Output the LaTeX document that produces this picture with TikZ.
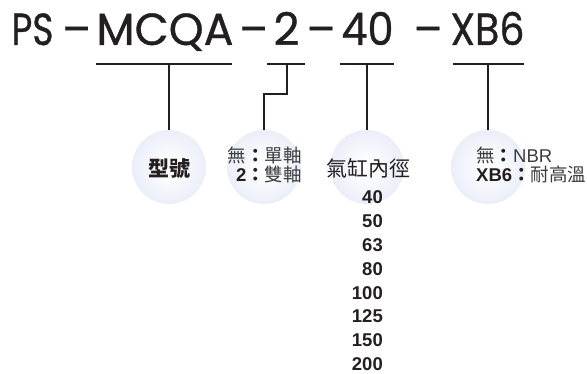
\documentclass[tikz,border=0pt]{standalone}
\usepackage{graphicx}
\usepackage{fontspec}
\newfontfamily\cjk{Noto Sans CJK TC}
\newfontfamily\arialf{Liberation Sans}
\newfontfamily\titlef{Poppins}[FakeBold=0.8]
\definecolor{lav}{RGB}{212,218,242}
\definecolor{ink}{RGB}{35,31,32}
\definecolor{soft}{RGB}{60,60,60}
\pgfdeclareradialshading{bubble}{\pgfpoint{0bp}{0bp}}{color(0bp)=(white); color(8bp)=(white!90!lav); color(50bp)=(lav); color(60bp)=(lav)}
\tikzset{
  titl/.style={font=\titlef\fontsize{45}{45}\selectfont, inner sep=0pt, text=ink, anchor=base},
  bub/.style={circle, minimum size=74pt, inner sep=0pt, shading=bubble},
  ln/.style={draw=ink, line width=1.2pt},
  cjkbig/.style={font=\cjk\fontsize{21}{21}\selectfont, inner sep=0pt, text=ink, anchor=base},
  cjksmall/.style={font=\cjk\fontsize{18.5}{18.5}\selectfont, inner sep=0pt, text=soft},
  num/.style={font=\arialf\bfseries\fontsize{18.5}{18.5}\selectfont, inner sep=0pt, text=ink, anchor=base east}
}
\newcommand{\bk}[1]{{\color{ink}\bfseries #1}}
\newcommand{\ar}[1]{{\arialf #1}}
\newcommand{\tw}[2]{\resizebox{#1pt}{\height}{#2}}
\begin{document}
\begin{tikzpicture}[x=1pt,y=-1pt]
\useasboundingbox (0,0) rectangle (587,374);
% title
\node[titl] (ps) at (32.5,45) {\tw{42}{PS}};
\node[titl] (d1) at (76.5,45) {\tw{29}{–}};
\node[titl] (mcqa) at (165,45) {\tw{137}{MCQA}};
\node[titl] (d2) at (253.5,45) {\tw{29}{–}};
\node[titl] (two) at (286.5,45) {\tw{26}{2}};
\node[titl] (d3) at (321,45) {\tw{29}{–}};
\node[titl] (forty) at (367.5,45) {\tw{52}{40}};
\node[titl] (d4) at (428,45) {\tw{29}{–}};
\node[titl] (xb) at (487.5,45) {\tw{74}{XB6}};
% circles
\node[bub] (c1) at (169,167) {};
\node[bub] (c2) at (264,167) {};
\node[bub] (c3) at (367,167) {};
\node[bub] (c4) at (488,167) {};
% underline coordinates
\coordinate (u1a) at (96,64); \coordinate (u1b) at (232,64); \coordinate (u1m) at (169,64);
\coordinate (u2a) at (267,64); \coordinate (u2b) at (305,64); \coordinate (u2m) at (287,64);
\coordinate (k2) at (287,94);
\coordinate (u3a) at (340,64); \coordinate (u3b) at (394,64); \coordinate (u3m) at (367,64);
\coordinate (u4a) at (453,64); \coordinate (u4b) at (524,64); \coordinate (u4m) at (488,64);
\draw[ln] (u1a) -- (u1b);
\draw[ln] (u1m) -- (c1.north);
\draw[ln] (u2a) -- (u2b);
\draw[ln] (u2m) -- (k2) -| (c2.north);
\draw[ln] (u3a) -- (u3b);
\draw[ln] (u3m) -- (c3.north);
\draw[ln] (u4a) -- (u4b);
\draw[ln] (u4m) -- (c4.north);
% circle texts
\node[cjkbig, font=\cjk\bfseries\fontsize{21}{21}\selectfont] (t1) at (169,176.5) {型號};
\node[cjksmall, anchor=base east] (t2a) at (302,163) {無\bk{：}單軸};
\node[cjksmall, anchor=base east] (t2b) at (302,182) {\bk{\ar{2}：}雙軸};
\node[cjkbig] (t3) at (368,176.5) {氣缸內徑};
\node[cjksmall, anchor=base west] (t4a) at (476,163) {無\bk{：}\ar{NBR}};
\node[cjksmall, anchor=base west] (t4b) at (476,182) {\bk{\ar{XB6}：}耐高溫};
% numbers
\node[num] (n1) at (383,204) {40};
\node[num] (n2) at (383,227.8) {50};
\node[num] (n3) at (383,251.6) {63};
\node[num] (n4) at (383,275.4) {80};
\node[num] (n5) at (383,299.2) {100};
\node[num] (n6) at (383,323) {125};
\node[num] (n7) at (383,346.8) {150};
\node[num] (n8) at (383,370.6) {200};
\end{tikzpicture}
\end{document}
